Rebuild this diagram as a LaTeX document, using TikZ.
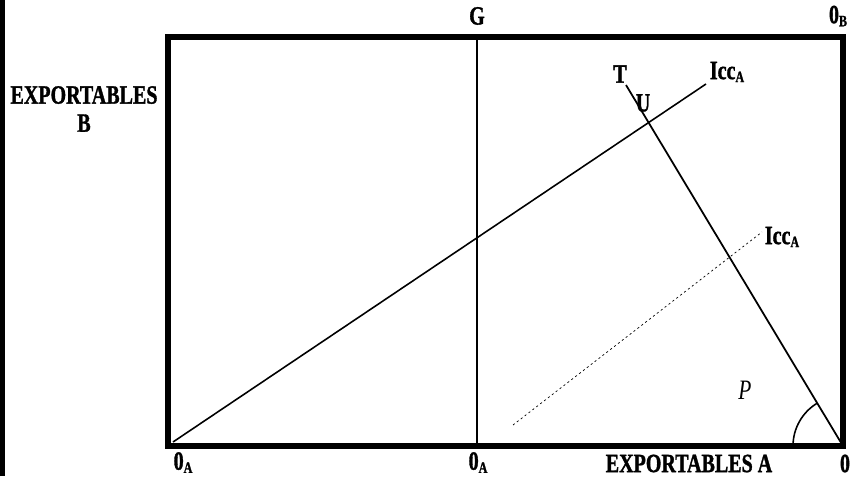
\documentclass[tikz,border=0pt]{standalone}
\usepackage{fontspec}
\setmainfont{Liberation Serif}[FakeStretch=0.76,BoldFeatures={FakeBold=1.2}]
\newcommand{\lsub}[1]{\raisebox{-0.25ex}{\fontsize{9}{9}\selectfont #1}}
\begin{document}
\begin{tikzpicture}[lbl/.style={font=\fontsize{15}{15}\selectfont\bfseries,inner sep=0pt},
	frame/.style={line width=3pt,line cap=rect}]
	\useasboundingbox (0,0) rectangle (17.06,9.52);
	% box corners
	\coordinate (OA) at (3.36,0.60);
	\coordinate (O) at (16.86,0.60);
	\coordinate (OB) at (16.86,8.78);
	\coordinate (TL) at (3.36,8.78);
	\coordinate (Gt) at (9.54,8.78);
	\coordinate (Gb) at (9.54,0.60);
	\draw[line width=3pt] (0.05,0)--(0.05,9.52);
	\draw[frame] (OA)--(O)--(OB)--(TL)--cycle;
	\draw[line width=0.7pt] (Gt)--(Gb);
	% curves
	\coordinate (I1) at (3.46,0.68);
	\coordinate (I2) at (14.12,7.84);
	\draw[line width=0.9pt] (I1)--(I2);
	\coordinate (T1) at (12.52,7.82);
	\draw[line width=1pt] (T1)--(O);
	\coordinate (D1) at (10.26,1.02);
	\coordinate (D2) at (15.24,4.88);
	\draw[thin,dash pattern=on 1.2pt off 1.6pt] (D1)--(D2);
	\draw[line width=0.9pt] ([shift={(180:1.0)}]O) arc (180:121:1.0);
	% labels
	\node[lbl] (g) at (9.54,9.20) {G};
	\node[lbl] (ob) at (16.76,9.20) {0\lsub{B}};
	\node[lbl,align=center] (eb) at (1.68,7.34) {EXPORTABLES\\[1pt]B};
	\node[lbl] (t) at (12.40,8.04) {T};
	\node[lbl] (icc1) at (14.54,8.08) {Icc\lsub{A}};
	\node[lbl] (u) at (12.86,7.46) {U};
	\node[lbl] (icc2) at (15.64,4.78) {Icc\lsub{A}};
	\node[inner sep=0pt,font=\fontsize{16}{16}\selectfont\itshape] (p) at (14.90,1.72) {P};
	\node[lbl] (oa1) at (3.66,0.27) {0\lsub{A}};
	\node[lbl] (oa2) at (9.56,0.27) {0\lsub{A}};
	\node[lbl] (ea) at (13.78,0.25) {EXPORTABLES A};
	\node[lbl] (o) at (16.90,0.25) {0};
\end{tikzpicture}
\end{document}
